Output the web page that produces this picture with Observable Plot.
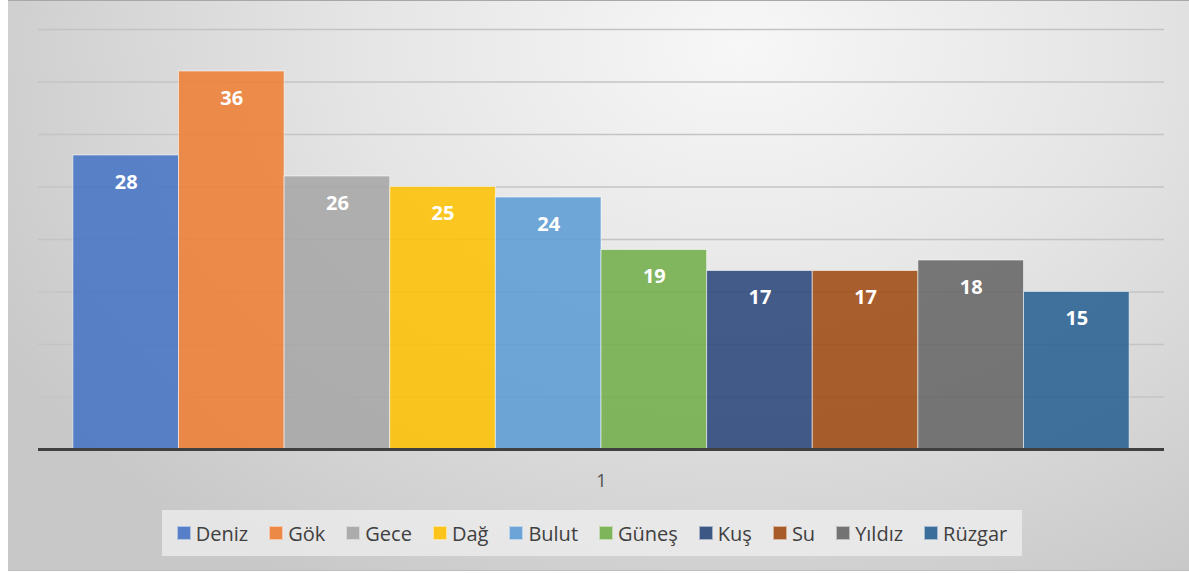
<!DOCTYPE html>
<html>
<head>
<meta charset="utf-8">
<script src="https://cdn.jsdelivr.net/npm/d3@7"></script>
<script src="https://cdn.jsdelivr.net/npm/@observablehq/plot@0.6"></script>
<style>
  html, body { margin: 0; padding: 0; background: #ffffff; }
  #frame {
    position: absolute; left: 8px; top: 0; width: 1181px; height: 571px;
    background: radial-gradient(ellipse 72% 110% at 62% 8%, #f7f7f7 0%, #e5e5e5 45%, #c8c8c8 100%);
    box-shadow: inset 0 1px 0 #a8a8a8, inset 0 -1px 0 #bdbdbd;
    font-family: "Open Sans", sans-serif;
  }
  #chart { position: absolute; left: 0; top: 0; }
  #legend {
    position: absolute; left: 154px; top: 510px; width: 860px; height: 46px;
    background: rgba(240,240,240,0.72);
    display: flex; align-items: center; justify-content: center; gap: 21px;
    font-size: 20px; color: #404040;
  }
  .item { display: flex; align-items: center; white-space: nowrap; }
  .sw { width: 14px; height: 14px; margin-right: 5px; box-sizing: border-box; border: 1px solid rgba(255,255,255,0.55); }
</style>
</head>
<body>
<div id="frame">
  <div id="chart"></div>
  <div id="legend"></div>
</div>
<script>
const category = "1";
const names = ["Deniz", "Gök", "Gece", "Dağ", "Bulut", "Güneş", "Kuş", "Su", "Yıldız", "Rüzgar"];
const values = [28, 36, 26, 25, 24, 19, 17, 17, 18, 15];
const colors = ["#4472C4", "#ED7D31", "#A5A5A5", "#FFC000", "#5B9BD5", "#70AD47", "#264478", "#9E480E", "#636363", "#255E91"];
const yTicks = [5, 10, 15, 20, 25, 30, 35, 40];

const data = names.map((n, i) => ({cat: category, name: n, value: values[i]}));

const chart = Plot.plot({
  width: 1181,
  height: 500,
  marginTop: 29,
  marginBottom: 51,
  marginLeft: 30,
  marginRight: 25,
  style: {background: "transparent", fontFamily: "Open Sans, sans-serif", fontSize: "18px", color: "#505050", overflow: "visible"},
  fx: {domain: [category], padding: 0, round: false, label: null, axis: "bottom", tickSize: 0, tickPadding: 25},
  x: {domain: names, paddingInner: 0, paddingOuter: 0.33, round: false, axis: null},
  y: {domain: [0, 40], axis: null},
  color: {domain: names, range: colors},
  marks: [
    Plot.ruleY(yTicks, {stroke: "#c4c4c4", strokeWidth: 1.3}),
    Plot.barY(data, {fx: "cat", x: "name", y: "value", fill: "name", fillOpacity: 0.86, stroke: "#ffffff", strokeOpacity: 0.55, strokeWidth: 1}),
    Plot.ruleY([0], {stroke: "#404040", strokeWidth: 3}),
    Plot.text(data, {fx: "cat", x: "name", y: "value", text: d => String(d.value), dy: 27, fill: "#ffffff", fontWeight: "bold", fontSize: 20})
  ]
});
document.getElementById("chart").appendChild(chart);

const legend = document.getElementById("legend");
names.forEach((n, i) => {
  const item = document.createElement("div");
  item.className = "item";
  const sw = document.createElement("span");
  sw.className = "sw";
  sw.style.background = colors[i];
  sw.style.opacity = 0.88;
  const label = document.createElement("span");
  label.textContent = n;
  item.appendChild(sw);
  item.appendChild(label);
  legend.appendChild(item);
});
</script>
</body>
</html>
